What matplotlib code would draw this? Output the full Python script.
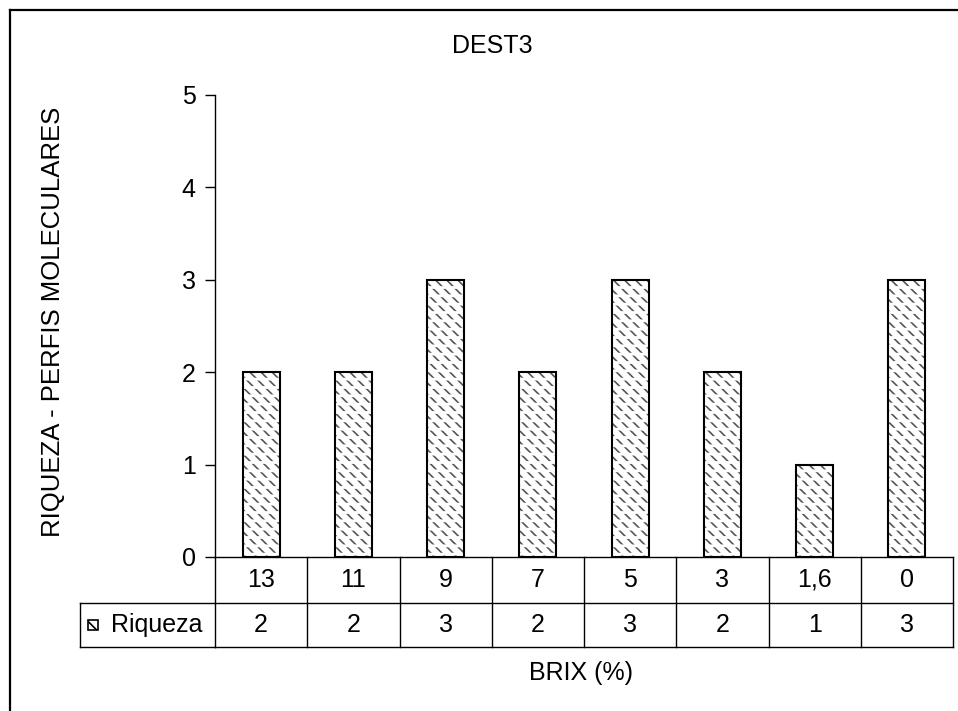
import matplotlib as mpl
import matplotlib.pyplot as plt
from matplotlib.patches import Rectangle
from matplotlib.lines import Line2D

plt.rcParams['font.family'] = ['Liberation Sans', 'DejaVu Sans']
plt.rcParams['hatch.linewidth'] = 1.2

brix = ['13', '11', '9', '7', '5', '3', '1,6', '0']
riqueza = [2, 2, 3, 2, 3, 2, 1, 3]

W, H = 958, 711
fig = plt.figure(figsize=(W / 100, H / 100), dpi=100)

# area do grafico em pixels
x0, x1 = 215, 953
y_top, y_bot = 95, 557
ax = fig.add_axes([x0 / W, 1 - y_bot / H, (x1 - x0) / W, (y_bot - y_top) / H])

pos = list(range(len(brix)))
bw = 0.40

# trama: tracos diagonais cinza cortados por faixas brancas
ax.bar(pos, riqueza, width=bw, color='white', edgecolor='#555555',
       hatch='\\\\\\', linewidth=0, zorder=2)
with mpl.rc_context({'hatch.linewidth': 2.0}):
    ax.bar(pos, riqueza, width=bw, color='none', edgecolor='white',
           hatch='--', linewidth=0, zorder=2.5)
ax.bar(pos, riqueza, width=bw, color='none', edgecolor='black',
       linewidth=1.5, zorder=3)

ax.set_xlim(-0.5, len(brix) - 0.5)
ax.set_ylim(0, 5)
ax.set_yticks(range(6))
ax.set_xticks([])
ax.tick_params(axis='y', labelsize=18, length=7, width=1, pad=7)
for s in ['top', 'right', 'bottom']:
    ax.spines[s].set_visible(False)
ax.spines['left'].set_linewidth(1)

fig.text(492 / W, 1 - 46 / H, 'DEST3', ha='center', va='center', fontsize=18)
fig.text(53 / W, 1 - 322 / H, 'RIQUEZA - PERFIS MOLECULARES', rotation=90,
         ha='center', va='center', fontsize=18.5)

# tabela de dados por baixo do eixo
ph = y_bot - y_top
r1 = -46 / ph
r2 = -90 / ph
tr = ax.get_xaxis_transform()
kw = dict(transform=tr, color='black', linewidth=1, clip_on=False)
n = len(brix)
ax.add_line(Line2D([-0.5, n - 0.5], [0, 0], **kw))
ax.add_line(Line2D([-0.5, n - 0.5], [r1, r1], **kw))
ax.add_line(Line2D([-0.5, n - 0.5], [r2, r2], **kw))
for i in range(n + 1):
    ax.add_line(Line2D([i - 0.5, i - 0.5], [0, r2], **kw))

# celula do rotulo da serie
lab_left = (80 - x0) / (x1 - x0)
ta = ax.transAxes
lk = dict(transform=ta, color='black', linewidth=1, clip_on=False)
ax.add_line(Line2D([lab_left, 0], [r1, r1], **lk))
ax.add_line(Line2D([lab_left, 0], [r2, r2], **lk))
ax.add_line(Line2D([lab_left, lab_left], [r1, r2], **lk))

for i in range(n):
    ax.text(i, r1 / 2, brix[i], transform=tr, ha='center', va='center',
            fontsize=18)
    ax.text(i, (r1 + r2) / 2, str(riqueza[i]), transform=tr, ha='center',
            va='center', fontsize=18)

kx = (88 - x0) / (x1 - x0)
kwid = 10 / (x1 - x0)
khei = 10 / ph
ax.add_patch(Rectangle((kx, (r1 + r2) / 2 - khei / 2), kwid, khei,
                       transform=ta, facecolor='white', edgecolor='black',
                       hatch='\\', linewidth=1.2, clip_on=False))
ax.text((111 - x0) / (x1 - x0), (r1 + r2) / 2, 'Riqueza', transform=ta,
        ha='left', va='center', fontsize=18)

fig.text(581 / W, 1 - 673 / H, 'BRIX (%)', ha='center', va='center',
         fontsize=18)

# moldura exterior
fig.add_artist(Line2D([10 / W, 10 / W], [1 - 10 / H, 0], transform=fig.transFigure,
                      color='black', linewidth=1.6))
fig.add_artist(Line2D([10 / W, 1], [1 - 10 / H, 1 - 10 / H],
                      transform=fig.transFigure, color='black', linewidth=1.6))

fig.savefig('out.png', dpi=100)
